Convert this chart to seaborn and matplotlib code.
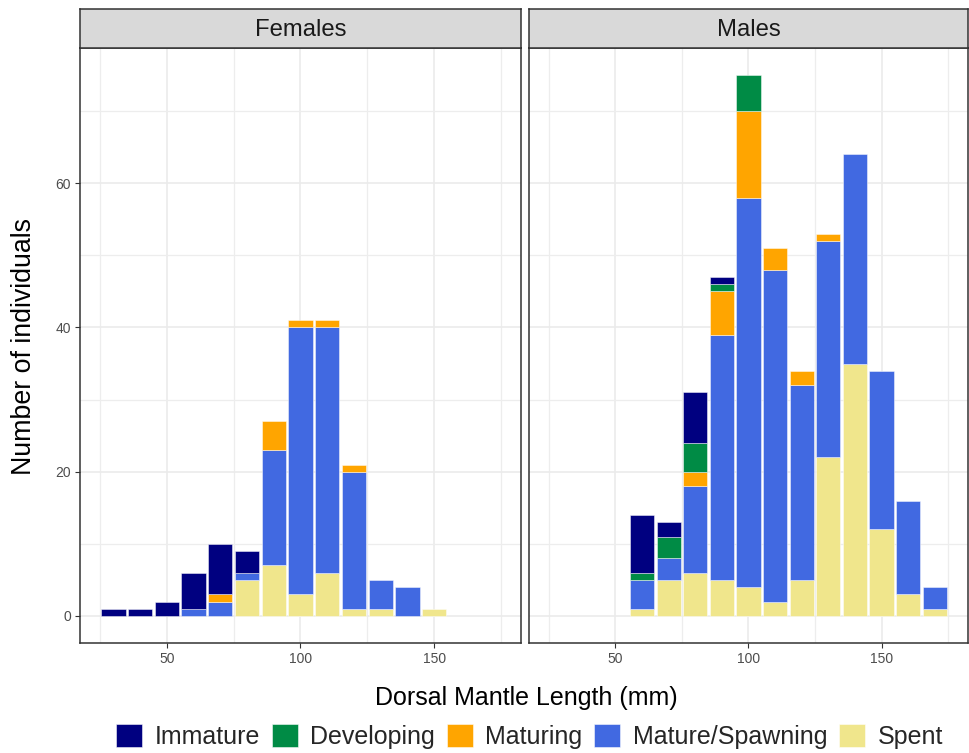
import numpy as np
import pandas as pd
import matplotlib
matplotlib.use("Agg")
import matplotlib.pyplot as plt
from matplotlib.patches import Rectangle
from matplotlib.ticker import MultipleLocator
import seaborn as sns

# ---------------- data ----------------
stages = ["Immature", "Developing", "Maturing", "Mature/Spawning", "Spent"]
stage_colors = ["#000080", "#008B45", "#FFA500", "#4169E1", "#F0E68C"]

female_lengths = [30, 40, 50, 60, 70, 80, 90, 100, 110, 120, 130, 140, 150]
female_immature = [1, 1, 2, 5, 7, 3, 0, 0, 0, 0, 0, 0, 0]
female_developing = [0, 0, 0, 0, 0, 0, 0, 0, 0, 0, 0, 0, 0]
female_maturing = [0, 0, 0, 0, 1, 0, 4, 1, 1, 1, 0, 0, 0]
female_mature = [0, 0, 0, 1, 2, 1, 16, 37, 34, 19, 4, 4, 0]
female_spent = [0, 0, 0, 0, 0, 5, 7, 3, 6, 1, 1, 0, 1]

male_lengths = [60, 70, 80, 90, 100, 110, 120, 130, 140, 150, 160, 170]
male_immature = [8, 2, 7, 1, 0, 0, 0, 0, 0, 0, 0, 0]
male_developing = [1, 3, 4, 1, 5, 0, 0, 0, 0, 0, 0, 0]
male_maturing = [0, 0, 2, 6, 12, 3, 2, 1, 0, 0, 0, 0]
male_mature = [4, 3, 12, 34, 54, 46, 27, 30, 29, 22, 13, 3]
male_spent = [1, 5, 6, 5, 4, 2, 5, 22, 35, 12, 3, 1]

panels = ["Females", "Males"]


def long_table(lengths, series):
    rows = []
    for stage, vals in zip(stages, series):
        for L, c in zip(lengths, vals):
            if c > 0:
                rows.append({"length": L, "stage": stage, "count": c})
    return pd.DataFrame(rows)


tables = {
    "Females": long_table(female_lengths, [female_immature, female_developing,
                                           female_maturing, female_mature, female_spent]),
    "Males": long_table(male_lengths, [male_immature, male_developing,
                                       male_maturing, male_mature, male_spent]),
}

# ---------------- style ----------------
sns.set_theme(style="white")
plt.rcParams["font.family"] = ["Liberation Sans", "DejaVu Sans"]

palette = dict(zip(stages, stage_colors))
W, H = 970, 753
fig = plt.figure(figsize=(W / 100, H / 100), dpi=100)

ybot, ytop = 643, 48
strip_top = 9
lefts = [80, 529]
rights = [521, 968]

border = "#333333"
for i, name in enumerate(panels):
    l, r = lefts[i], rights[i]
    ax = fig.add_axes([l / W, 1 - ybot / H, (r - l) / W, (ybot - ytop) / H])
    sns.histplot(data=tables[name], x="length", weights="count", hue="stage",
                 hue_order=stages, palette=palette, multiple="stack",
                 binwidth=10, binrange=(25, 175), shrink=0.91, alpha=1,
                 edgecolor=(1, 1, 1, 0.55), linewidth=0.6, legend=False, ax=ax)
    # hide empty (zero-height) bins so their outlines don't show
    for p in ax.patches:
        if p.get_height() == 0:
            p.set_visible(False)
    ax.set_xlim(17.5, 182.5)
    ax.set_ylim(-3.75, 78.75)
    ax.xaxis.set_major_locator(MultipleLocator(50))
    ax.xaxis.set_minor_locator(MultipleLocator(25))
    ax.yaxis.set_major_locator(MultipleLocator(20))
    ax.yaxis.set_minor_locator(MultipleLocator(10))
    ax.grid(which="major", color="#EBEBEB", linewidth=1.2)
    ax.grid(which="minor", color="#EDEDED", linewidth=0.9)
    ax.set_axisbelow(True)
    ax.set_facecolor("white")
    for s in ax.spines.values():
        s.set_color(border)
        s.set_linewidth(1.1)
        s.set_visible(True)
    ax.tick_params(axis="x", which="major", length=3.5, width=0.8, color=border,
                   labelsize=10, labelcolor="#4D4D4D", pad=3, bottom=True)
    ax.tick_params(which="minor", length=0)
    if i == 0:
        ax.tick_params(axis="y", which="major", length=3.5, width=0.8, color=border,
                       labelsize=10, labelcolor="#4D4D4D", pad=3, left=True)
    else:
        ax.tick_params(axis="y", which="major", left=False, labelleft=False)
    ax.set_xlabel("")
    ax.set_ylabel("")

    # facet strip
    sax = fig.add_axes([l / W, 1 - ytop / H, (r - l) / W, (ytop - strip_top) / H])
    sax.set_facecolor("#D9D9D9")
    sax.set_xticks([])
    sax.set_yticks([])
    for s in sax.spines.values():
        s.set_color(border)
        s.set_linewidth(1.1)
        s.set_visible(True)
    sax.text(0.5, 0.47, name, ha="center", va="center", fontsize=17.2,
             color="#1A1A1A", transform=sax.transAxes)

fig.text(526.5 / W, 1 - 705 / H, "Dorsal Mantle Length (mm)", ha="center",
         va="baseline", fontsize=18, color="black")
fig.text(24 / W, 1 - 346.7 / H, "Number of individuals", ha="center",
         va="center", rotation=90, fontsize=19.3, color="black")

handles = [Rectangle((0, 0), 1, 1, facecolor=c, edgecolor=(1, 1, 1, 0.6), linewidth=0.6)
           for c in stage_colors]
fig.legend(handles, stages, loc="center", bbox_to_anchor=(529.6 / W, 1 - 736.3 / H),
           ncol=5, frameon=False, fontsize=18, handlelength=1.04, handleheight=1.04,
           handletextpad=0.5, columnspacing=0.47, borderaxespad=0, borderpad=0)

fig.savefig("out.png", dpi=100)
